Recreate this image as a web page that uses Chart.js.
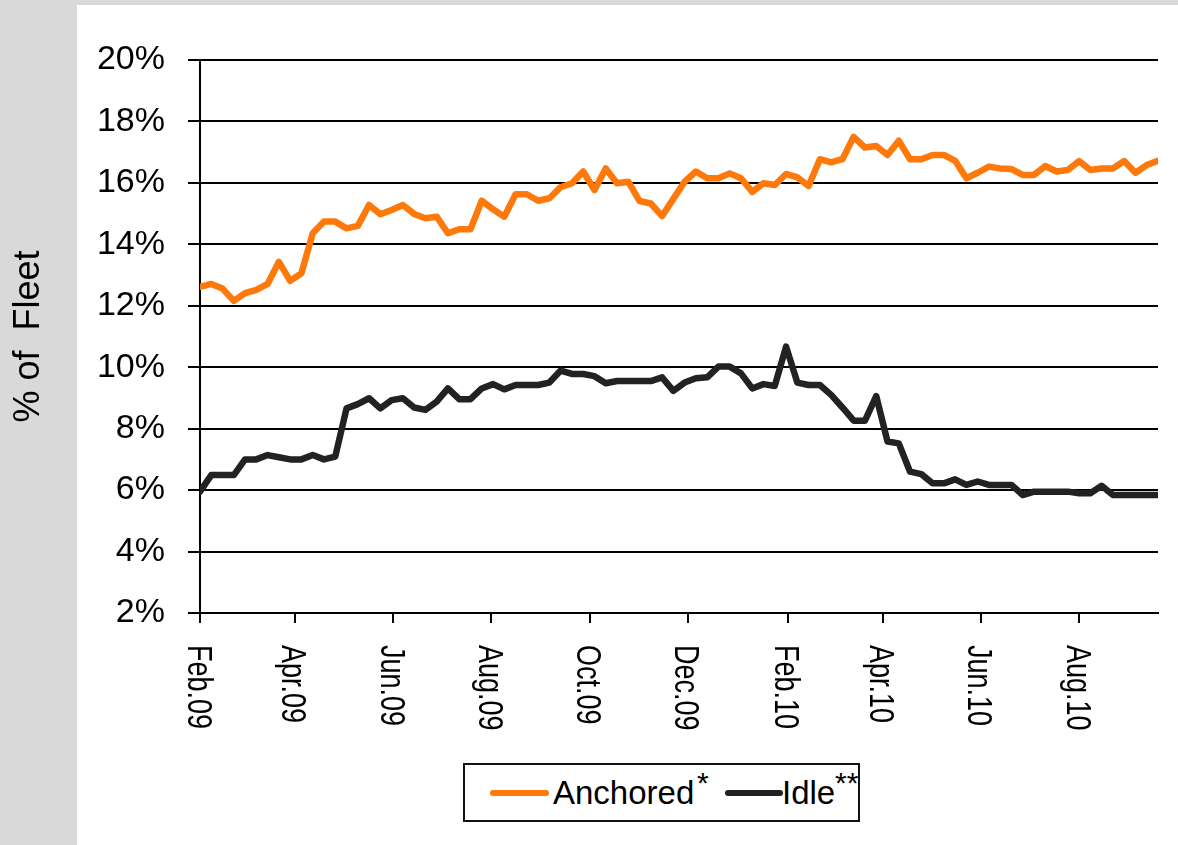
<!DOCTYPE html>
<html>
<head>
<meta charset="utf-8">
<script src="https://cdn.jsdelivr.net/npm/chart.js@4/dist/chart.umd.min.js"></script>
<style>
  html, body { margin: 0; padding: 0; }
  body {
    width: 1178px;
    height: 845px;
    background: #d9d9d9;
    position: relative;
    overflow: hidden;
    font-family: "Liberation Sans", Arial, sans-serif;
  }
  #panel { position: absolute; left: 77px; top: 5px; right: 0; bottom: 0; background: #fff; }
  #chart { position: absolute; left: 0; top: 0; }
  #legend {
    position: absolute; left: 463px; top: 763px; width: 397px; height: 59px;
    box-sizing: border-box; border: 2px solid #111; background: #fff;
  }
  #legend span { position: absolute; line-height: 1; color: #000; white-space: nowrap; }
  #legend .swatch { height: 6px; border-radius: 3px; }
  #legend .name { font-size: 33px; }
  #legend .sup { font-size: 30px; }
</style>
</head>
<body>
<div id="panel"></div>
<canvas id="chart" width="1178" height="845"></canvas>
<div id="legend">
  <span class="swatch" style="left:25px;top:25px;width:59px;background:#ff780a"></span>
  <span class="name" style="left:88px;top:11px">Anchored</span>
  <span class="sup" style="left:232px;top:3px">*</span>
  <span class="swatch" style="left:260px;top:25px;width:58px;background:#222"></span>
  <span class="name" style="left:317px;top:11px">Idle</span>
  <span class="sup" style="left:370px;top:3px">**</span>
</div>
<script>
// weekly share of fleet (%), Feb.09 onwards
const anchored = [
  12.62, 12.71, 12.56, 12.16, 12.41, 12.52, 12.71, 13.43, 12.81, 13.06,
  14.36, 14.74, 14.74, 14.52, 14.60, 15.28, 14.98, 15.12, 15.28, 14.99,
  14.85, 14.90, 14.36, 14.49, 14.49, 15.42, 15.14, 14.90, 15.63, 15.63,
  15.42, 15.50, 15.86, 15.99, 16.37, 15.77, 16.47, 15.99, 16.04, 15.41,
  15.33, 14.92, 15.48, 16.04, 16.37, 16.15, 16.15, 16.31, 16.15, 15.71,
  15.99, 15.93, 16.29, 16.18, 15.90, 16.77, 16.67, 16.77, 17.50, 17.15,
  17.20, 16.91, 17.37, 16.77, 16.77, 16.91, 16.91, 16.72, 16.15, 16.33,
  16.53, 16.47, 16.45, 16.26, 16.26, 16.55, 16.37, 16.42, 16.71, 16.42,
  16.47, 16.47, 16.71, 16.33, 16.58, 16.72
]
const idle = [
  5.95, 6.49, 6.49, 6.49, 7.00, 7.00, 7.14, 7.07, 7.00, 7.00,
  7.14, 7.00, 7.09, 8.66, 8.80, 8.99, 8.66, 8.93, 8.99, 8.69,
  8.61, 8.88, 9.31, 8.96, 8.96, 9.31, 9.45, 9.28, 9.42, 9.42,
  9.42, 9.50, 9.89, 9.78, 9.78, 9.71, 9.48, 9.55, 9.55, 9.55,
  9.55, 9.67, 9.23, 9.50, 9.64, 9.67, 10.02, 10.02, 9.80, 9.31,
  9.45, 9.39, 10.67, 9.50, 9.42, 9.42, 9.10, 8.69, 8.26, 8.26,
  9.06, 7.58, 7.52, 6.60, 6.52, 6.22, 6.22, 6.35, 6.17, 6.28,
  6.17, 6.17, 6.17, 5.84, 5.95, 5.95, 5.95, 5.95, 5.90, 5.90,
  6.14, 5.84, 5.84, 5.84, 5.84, 5.84
]
// x axis is in days since 1 Feb 2009, one point per week
const days = anchored.map((_, i) => i * 7)
const monthLabels = ["Feb.09", "Apr.09", "Jun.09", "Aug.09", "Oct.09", "Dec.09", "Feb.10", "Apr.10", "Jun.10", "Aug.10"]
const monthDays = [0, 59, 120, 181, 242, 303, 365, 424, 485, 546]
const yTicks = [2, 4, 6, 8, 10, 12, 14, 16, 18, 20]

const FONT = '"Liberation Sans", Arial, sans-serif'

// month labels read top to bottom, so draw them by hand
const xLabels = {
  id: "xLabels",
  afterDraw(chart) {
    const ctx = chart.ctx
    const x = chart.scales.x
    ctx.save()
    ctx.fillStyle = "#000"
    ctx.font = "27px " + FONT
    ctx.textAlign = "left"
    ctx.textBaseline = "alphabetic"
    monthLabels.forEach((lab, i) => {
      const px = x.getPixelForValue(monthDays[i])
      ctx.save()
      ctx.translate(px - 12.5, x.top + 32)
      ctx.rotate(Math.PI / 2)
      ctx.scale(1, 1.33)
      ctx.fillText(lab, 0, 0)
      ctx.restore()
    })
    ctx.restore()
  }
}

new Chart(document.getElementById("chart"), {
  type: "line",
  data: {
    labels: days,
    datasets: [
      {
        label: "Anchored",
        data: anchored,
        borderColor: "#ff780a",
        borderWidth: 6.5,
        borderJoinStyle: "round",
        borderCapStyle: "round",
        pointRadius: 0,
        tension: 0
      },
      {
        label: "Idle",
        data: idle,
        borderColor: "#222222",
        borderWidth: 6.5,
        borderJoinStyle: "round",
        borderCapStyle: "round",
        pointRadius: 0,
        tension: 0
      }
    ]
  },
  options: {
    responsive: false,
    animation: false,
    devicePixelRatio: 1,
    layout: { padding: { left: 0, top: 60, right: 20, bottom: 0 } },
    plugins: { legend: { display: false }, tooltip: { enabled: false } },
    scales: {
      x: {
        type: "linear",
        min: 0,
        max: days[days.length - 1],
        afterBuildTicks: (s) => { s.ticks = monthDays.map((v) => ({ value: v })) },
        afterFit: (s) => { s.height = 232 },
        ticks: { display: false },
        grid: { drawOnChartArea: false, drawTicks: true, tickLength: 10, color: "#000", lineWidth: 2 },
        border: { display: true, color: "#000", width: 2 }
      },
      y: {
        min: 2,
        max: 20,
        afterBuildTicks: (s) => { s.ticks = yTicks.map((v) => ({ value: v })) },
        afterFit: (s) => { s.width = 200 },
        ticks: {
          color: "#000",
          padding: 23,
          font: { family: FONT, size: 34 },
          callback: (v) => v + "%"
        },
        grid: { color: "#000", lineWidth: 2, tickLength: 12 },
        border: { display: true, color: "#000", width: 2 },
        title: {
          display: true,
          text: "% of  Fleet",
          color: "#000",
          font: { family: FONT, size: 36, lineHeight: 1 },
          padding: { top: 11, bottom: 0 }
        }
      }
    }
  },
  plugins: [xLabels]
})
</script>
</body>
</html>
